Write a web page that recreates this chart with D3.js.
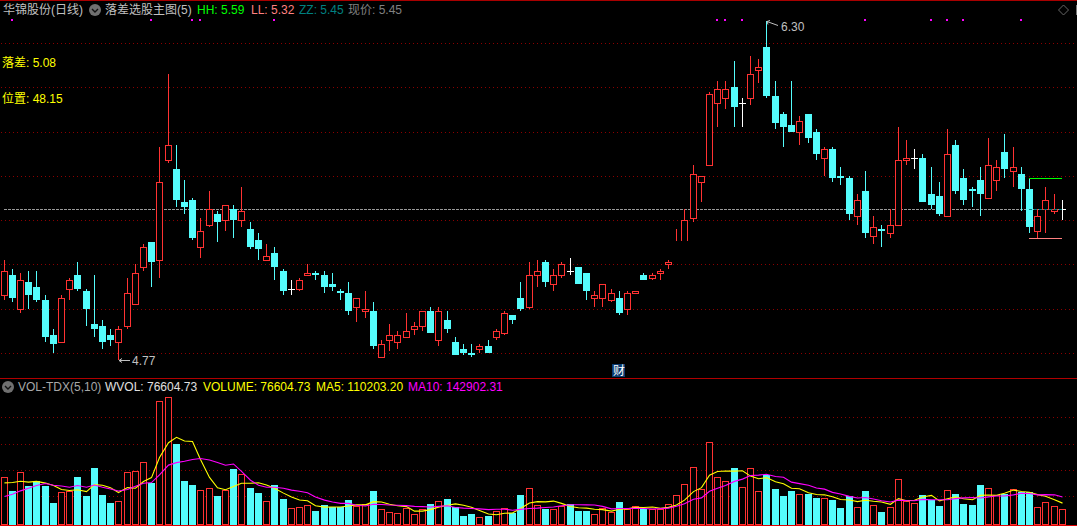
<!DOCTYPE html>
<html><head><meta charset="utf-8">
<script src="https://cdn.jsdelivr.net/npm/d3@7"></script>
<style>html,body{margin:0;padding:0;background:#000;overflow:hidden}svg{display:block}text{font-family:"Liberation Sans","Noto Sans CJK SC",sans-serif;font-size:12px}</style>
</head><body><svg id="c" width="1077" height="526"></svg>
<script>
const opens=[5.06,5.15,5.00,5.12,5.10,5.04,4.88,4.85,5.09,5.15,5.08,4.93,4.92,4.88,4.85,4.92,5.02,5.19,5.30,5.22,5.67,5.63,5.48,5.49,5.28,5.38,5.43,5.40,5.45,5.40,5.36,5.31,5.22,5.25,5.17,5.09,5.09,5.15,5.16,5.15,5.11,5.08,5.07,5.01,4.99,4.99,4.78,4.86,4.85,4.87,4.91,4.92,4.99,4.86,4.95,4.85,4.82,4.80,4.82,4.83,4.87,4.89,4.97,5.05,5.01,5.15,5.21,5.11,5.15,5.17,5.19,5.16,5.05,5.05,5.04,5.05,5.00,5.07,5.15,5.14,5.16,5.20,5.27,5.28,5.41,5.57,5.65,5.93,5.95,6.00,5.93,5.95,6.08,6.18,5.96,5.88,5.83,5.80,5.88,5.80,5.68,5.72,5.60,5.59,5.42,5.53,5.33,5.36,5.34,5.38,5.67,5.68,5.68,5.52,5.51,5.42,5.74,5.59,5.54,5.58,5.50,5.58,5.71,5.62,5.61,5.54,5.35,5.45,5.44,5.45];
const closes=[5.17,5.05,5.13,5.06,5.04,4.87,4.84,5.05,5.13,5.09,5.00,4.91,4.85,4.86,4.91,5.07,5.16,5.28,5.21,5.57,5.74,5.49,5.46,5.32,5.35,5.45,5.39,5.47,5.40,5.44,5.28,5.27,5.24,5.19,5.08,5.09,5.13,5.16,5.15,5.10,5.10,5.07,4.99,5.05,5.00,4.83,4.84,4.88,4.88,4.90,4.92,4.99,4.89,4.99,4.91,4.79,4.80,4.79,4.83,4.80,4.90,4.98,4.95,5.00,5.15,5.17,5.12,5.15,5.20,5.17,5.11,5.08,5.06,5.11,5.07,4.98,5.07,5.08,5.13,5.15,5.17,5.21,5.30,5.40,5.61,5.60,5.97,5.99,5.99,5.91,5.93,6.06,6.09,5.96,5.84,5.82,5.80,5.85,5.77,5.70,5.72,5.59,5.59,5.43,5.49,5.34,5.37,5.35,5.38,5.67,5.68,5.68,5.48,5.47,5.43,5.70,5.53,5.49,5.53,5.52,5.65,5.64,5.63,5.64,5.54,5.37,5.42,5.49,5.45,5.45];
const highs=[5.22,5.18,5.16,5.17,5.17,5.06,4.91,5.06,5.14,5.21,5.09,5.15,4.95,4.91,4.92,5.14,5.20,5.29,5.30,5.73,6.06,5.74,5.58,5.50,5.41,5.53,5.44,5.47,5.47,5.55,5.39,5.34,5.29,5.28,5.18,5.13,5.14,5.20,5.17,5.17,5.16,5.09,5.12,5.05,5.08,5.03,4.86,4.93,4.90,4.98,4.94,4.99,5.01,5.01,4.99,4.87,4.84,4.84,4.84,4.86,4.91,4.99,4.97,5.12,5.21,5.22,5.22,5.18,5.21,5.23,5.19,5.16,5.08,5.11,5.09,5.08,5.08,5.08,5.16,5.16,5.18,5.22,5.36,5.45,5.65,5.60,5.98,6.03,6.03,6.12,5.95,6.14,6.13,6.30,6.03,5.89,6.03,5.87,5.88,5.81,5.73,5.73,5.64,5.60,5.52,5.62,5.42,5.38,5.45,5.82,5.76,5.72,5.70,5.64,5.57,5.81,5.76,5.63,5.55,5.64,5.77,5.67,5.79,5.73,5.64,5.59,5.45,5.55,5.52,5.49];
const lows=[5.04,5.03,4.98,5.00,5.03,4.85,4.80,4.85,5.04,5.08,4.92,4.87,4.82,4.83,4.77,4.91,5.02,5.17,5.10,5.14,5.66,5.46,5.43,5.31,5.23,5.37,5.30,5.35,5.32,5.37,5.27,5.22,5.22,5.13,5.06,5.06,5.08,5.15,5.13,5.07,5.08,5.04,4.97,4.94,4.96,4.82,4.78,4.81,4.82,4.87,4.88,4.90,4.89,4.83,4.89,4.79,4.79,4.78,4.80,4.80,4.86,4.88,4.93,4.99,5.00,5.10,5.10,5.08,5.14,5.15,5.11,5.04,5.01,5.01,5.03,4.97,4.97,5.07,5.13,5.13,5.13,5.18,5.27,5.28,5.39,5.48,5.65,5.82,5.90,5.82,5.82,5.92,6.02,5.95,5.81,5.73,5.80,5.74,5.75,5.67,5.60,5.57,5.56,5.40,5.38,5.32,5.29,5.28,5.32,5.38,5.65,5.63,5.48,5.45,5.42,5.42,5.52,5.47,5.46,5.42,5.50,5.53,5.59,5.55,5.44,5.34,5.32,5.34,5.43,5.40];
const volumes=[247,175,274,201,228,201,111,170,175,249,148,297,154,111,122,276,281,329,217,652,668,424,228,207,180,191,148,180,292,263,191,164,122,207,133,85,90,101,69,101,90,90,127,95,104,175,80,64,58,85,53,80,106,122,133,90,42,53,37,42,69,85,58,154,191,101,80,80,95,106,69,69,53,85,64,117,80,95,80,80,80,106,154,212,302,186,435,249,228,297,196,297,175,260,186,148,175,159,159,138,138,127,85,148,90,175,101,64,90,239,122,111,154,127,95,180,159,106,101,207,191,154,159,186,170,170,90,117,95,76.6];
const ma5=[217,219,226,221,225,216,203,182,177,181,171,208,205,192,166,192,189,224,245,351,429,458,438,436,341,246,191,181,198,215,215,218,206,189,163,142,127,123,96,89,90,90,95,101,101,118,116,104,96,92,68,68,76,89,99,106,99,88,71,53,49,57,58,82,111,118,117,121,109,92,86,84,78,76,68,78,80,88,87,90,83,88,100,126,171,192,258,277,280,279,281,253,239,245,223,213,189,186,165,156,154,144,129,127,118,125,120,116,104,134,123,125,143,151,122,133,143,133,128,151,153,152,162,179,172,168,155,147,128,110.2];
const ma10=[145,157,175,189,203,214,205,201,194,203,194,206,194,185,174,182,199,215,219,259,311,324,331,341,346,338,325,310,317,278,231,205,194,194,189,179,173,165,143,126,116,109,109,99,95,104,103,100,99,97,93,92,90,93,96,87,84,82,80,76,78,78,73,77,82,84,87,90,96,102,102,101,100,93,80,82,82,83,82,79,81,84,94,107,131,138,173,189,203,225,237,256,258,263,251,247,221,213,205,190,184,167,158,146,137,140,132,123,116,126,124,123,130,128,128,128,134,138,140,137,143,148,148,154,162,161,154,155,154,142.9];
const priceGrid=[6.2,6.0,5.8,5.6,5.4,5.2,5.0,4.8];
const volGrid=[146,283,422,565];
const signalBars=[1,18,23,24,33,87,88,90,105,113,115,117,124];
const RED="#ff3232",CYAN="#54fcfc",GRID="#8c0000";
const svg=d3.select("#c");
const n=closes.length;
const X=d3.scaleLinear().domain([0,n-1]).range([4.1,1062.3]);
const col=i=>Math.floor(X(i));
const Y=d3.scaleLinear().domain([6.2,4.8]).range([43.5,353.5]);
const py=v=>Math.floor(Y(v));
const V=d3.scaleLinear().domain([0,565]).range([524,417]);
const bars=d3.range(n);
svg.append("rect").attr("width",1077).attr("height",526).attr("fill","#000");
const crisp=svg.append("g").attr("shape-rendering","crispEdges");
[[0,"#a80000"],[378,"#b00000"],[525,"#e00000"]].forEach(([y,c])=>crisp.append("rect").attr("x",0).attr("width",1077).attr("y",y).attr("height",1).attr("fill",c));
const dotX=d3.range(1,1077,4);
function dotted(ys){ys.forEach(y=>crisp.append("g").selectAll("rect").data(dotX).join("rect").attr("x",d=>d).attr("y",y).attr("width",1).attr("height",1).attr("fill",GRID));}
dotted(priceGrid.map(py));dotted(volGrid.map(d=>Math.round(V(d))));
const last=closes[n-1];
crisp.append("line").attr("x1",4).attr("x2",col(n-1)).attr("y1",py(last)+.5).attr("y2",py(last)+.5).attr("stroke","#999").attr("stroke-dasharray","3,1");
crisp.append("g").selectAll("rect").data(signalBars).join("rect").attr("x",d=>col(d)-1).attr("y",19).attr("width",2).attr("height",2).attr("fill","#ff00ff");
const cg=crisp.append("g");
bars.forEach(i=>{
 const o=opens[i],c=closes[i],h=highs[i],l=lows[i],x=col(i);
 const col0=o===c?"#fff":(c>o?RED:CYAN);
 const top=py(Math.max(o,c)),bot=py(Math.min(o,c));
 const hy=py(h),ly=py(l);
 cg.append("rect").attr("x",x).attr("y",hy).attr("width",1).attr("height",Math.max(ly-hy,1)).attr("fill",col0);
 if(o===c){cg.append("rect").attr("x",x-3).attr("y",top).attr("width",7).attr("height",1).attr("fill",col0);}
 else if(c>o){cg.append("rect").attr("x",x-3+.5).attr("y",top+.5).attr("width",6).attr("height",Math.max(bot-top,1)).attr("fill","#000").attr("stroke",RED);}
 else{cg.append("rect").attr("x",x-3).attr("y",top).attr("width",7).attr("height",Math.max(bot-top,1)).attr("fill",CYAN);}
});
const gapBars=[82,83];
crisp.append("rect").attr("x",col(gapBars[0])-3).attr("width",col(gapBars[1])+5-col(gapBars[0])+3)
 .attr("y",py(5.31)+1).attr("height",Y(5.26)-Y(5.31)).attr("fill","#000");
const levelStart=125;
[[5.59,"#00ff00",null],[5.32,"#ff8080",null],[5.45,"#008080","3,2"]].forEach(([v,c,d])=>{
 const l=crisp.append("line").attr("x1",col(levelStart)).attr("x2",col(n-1)).attr("y1",py(v)+.5).attr("y2",py(v)+.5).attr("stroke",c);
 if(d)l.attr("stroke-dasharray",d);
});
const vg=crisp.append("g");
bars.forEach(i=>{
 const o=opens[i],c=closes[i],up=o===c?(i>0&&c>=closes[i-1]):c>o;
 const x=col(i),t=Math.round(V(volumes[i])),b=Math.round(V(0));
 if(up)vg.append("rect").attr("x",x-3+.5).attr("y",t+.5).attr("width",6).attr("height",b-t).attr("fill","#000").attr("stroke",RED);
 else vg.append("rect").attr("x",x-3).attr("y",t).attr("width",7).attr("height",b-t+1).attr("fill",CYAN);
});
const maLine=a=>d3.line().x((d,i)=>col(i)+.5).y(d=>V(d))(a);
svg.append("path").attr("d",maLine(ma5)).attr("fill","none").attr("stroke","#ffff00").attr("stroke-width",1.1);
svg.append("path").attr("d",maLine(ma10)).attr("fill","none").attr("stroke","#ff00ff").attr("stroke-width",1.1);
function T(x,y,s,c){return svg.append("text").attr("x",x).attr("y",y).attr("fill",c).text(s);}
T(3,14,"华锦股份(日线)","#c0c0c0");
T(105,14,"落差选股主图(5)","#c0c0c0");
T(197,14,"HH: 5.59","#00ff00");
T(251,14,"LL: 5.32","#ff8080");
T(299,14,"ZZ: 5.45","#008080");
T(348,14,"现价: 5.45","#808080");
T(2,67,"落差: 5.08","#ffff00");
T(2,103,"位置: 48.15","#ffff00");
T(18,391,"VOL-TDX(5,10)","#a8a8a8");
T(105,391,"WVOL: 76604.73","#e0e0e0");
T(203,391,"VOLUME: 76604.73","#ffff00");
T(316,391,"MA5: 110203.20","#ffff00");
T(408,391,"MA10: 142902.31","#ff00ff");
function toggle(x,y){svg.append("circle").attr("cx",x).attr("cy",y).attr("r",6).attr("fill","#707070");
 svg.append("path").attr("d",`M${x-3},${y-1}L${x},${y+2}L${x+3},${y-1}`).attr("fill","none").attr("stroke","#111").attr("stroke-width",1.4);}
toggle(95,10);toggle(8,387);
svg.append("path").attr("d","M1063.5,5L1068.5,10L1063.5,15L1058.5,10Z").attr("fill","none").attr("stroke","#666");
svg.append("rect").attr("x",1076).attr("y",5).attr("width",1).attr("height",10).attr("fill","#777");
const idxLow=14,idxHigh=93;
const noteGrey="#c0c0c0";
const ly14=py(lows[idxLow])+.5,hy93=py(highs[idxHigh])+.5;
svg.append("path").attr("d",`M${col(idxLow)+1},${ly14}H${col(idxLow)+12}M${col(idxLow)+1},${ly14}l3,-2M${col(idxLow)+1},${ly14}l3,2`).attr("fill","none").attr("stroke",noteGrey);
T(col(idxLow)+14,365,lows[idxLow].toFixed(2),noteGrey);
svg.append("path").attr("d",`M${col(idxHigh)+1},${hy93}L${col(idxHigh)+12},${hy93+4}M${col(idxHigh)+1},${hy93}l3,-1M${col(idxHigh)+1},${hy93}l1,3`).attr("fill","none").attr("stroke",noteGrey);
T(col(idxHigh)+15,31,highs[idxHigh].toFixed(2),noteGrey);
svg.append("rect").attr("x",612).attr("y",364).attr("width",13).attr("height",13).attr("fill","#0a3a70");
T(613,375,"财","#ffffff");
</script></body></html>
